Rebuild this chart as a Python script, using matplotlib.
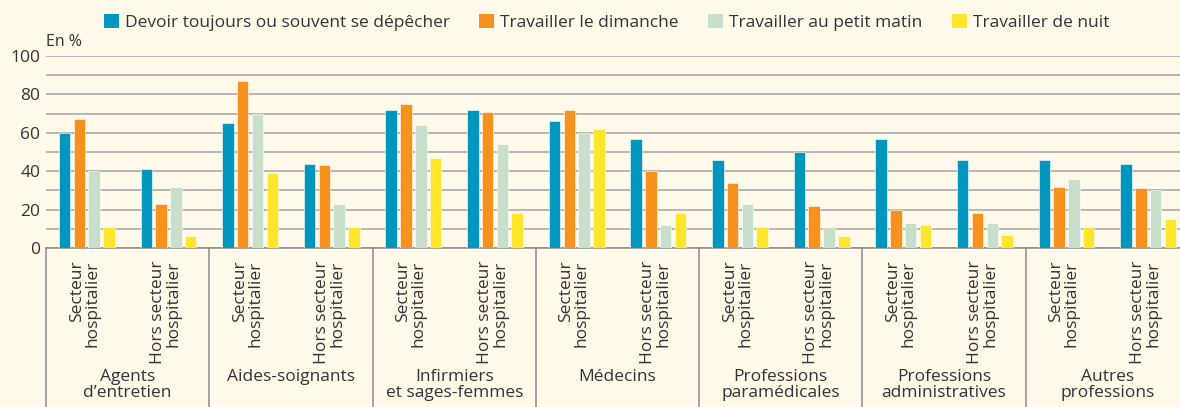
import numpy as np
import matplotlib.pyplot as plt
import matplotlib.transforms as mtransforms
from matplotlib.patches import Patch

groups = ["Agents\nd\u2019entretien", "Aides-soignants", "Infirmiers\net sages-femmes",
          "M\u00e9decins", "Professions\nparam\u00e9dicales", "Professions\nadministratives",
          "Autres\nprofessions"]
sub_labels = ["Secteur\nhospitalier", "Hors secteur\nhospitalier"]

series_names = ["Devoir toujours ou souvent se d\u00e9p\u00eacher", "Travailler le dimanche",
                "Travailler au petit matin", "Travailler de nuit"]
# order: for each group, Secteur hospitalier then Hors secteur hospitalier
depecher = [60, 41, 65, 44, 72, 72, 66, 57, 46, 50, 57, 46, 46, 44]
dimanche = [67, 23, 87, 43, 75, 71, 72, 40, 34, 22, 20, 18, 32, 31]
petit_matin = [40, 32, 70, 23, 64, 54, 60, 12, 23, 11, 13, 13, 36, 30]
nuit = [11, 6, 39, 11, 47, 18, 62, 18, 11, 6, 12, 7, 11, 15]

colors = ["#0096BD", "#F7921E", "#C8DFCB", "#FFE52B"]
bg = "#FEF9E8"
grid_col = "#A5A5A5"
txt_col = "#333333"

plt.rcParams['font.family'] = ['Open Sans', 'DejaVu Sans']

fig = plt.figure(figsize=(11.8, 4.07), dpi=100, facecolor=bg)
# the chart runs a little past the right edge of the picture
ax = fig.add_axes([0.039, 0.3907, 0.9686, 0.4717])
ax.set_facecolor(bg)

n = len(depecher)
x = np.arange(n) + 0.5
w = 0.141
step = 0.181
all_series = [depecher, dimanche, petit_matin, nuit]
for k, vals in enumerate(all_series):
    ax.bar(x + (k - 1.5) * step, vals, width=w, color=colors[k], zorder=3,
           edgecolor="white", linewidth=0.4)

ax.set_xlim(0, n)
ax.set_ylim(0, 100)
ax.set_yticks(np.arange(0, 101, 10))
ax.set_yticklabels([str(v) if v % 20 == 0 else "" for v in range(0, 101, 10)])
ax.yaxis.grid(True, color=grid_col, linewidth=1.1, zorder=0)
ax.tick_params(axis='y', length=0, labelsize=12.5, colors=txt_col, pad=4)
ax.set_xticks([])
for s in ["top", "right", "left"]:
    ax.spines[s].set_visible(False)
ax.spines["bottom"].set_color("#8C8C8C")
ax.spines["bottom"].set_linewidth(1.1)

ax.text(0.0, 1.03, "En %", transform=ax.transAxes, fontsize=11.5, color=txt_col,
        ha="left", va="bottom")

trans = mtransforms.blended_transform_factory(ax.transData, ax.transAxes)
for i in range(n):
    ax.text(x[i] - 0.03, -0.065, sub_labels[i % 2], transform=trans, rotation=90,
            ha="center", va="top", multialignment="right", fontsize=12.5,
            color=txt_col, linespacing=0.95)

for g in range(len(groups) + 1):
    ax.plot([2 * g, 2 * g], [0, -0.83], transform=trans, color="#8C8C8C",
            linewidth=1.1, clip_on=False)

for g, name in enumerate(groups):
    ax.text(2 * g + 1, -0.63, name, transform=trans, ha="center", va="top",
            fontsize=12.5, color=txt_col, linespacing=1.0)

handles = [Patch(facecolor=c) for c in colors]
fig.legend(handles, series_names, loc="center", bbox_to_anchor=(0.514, 0.945),
           ncol=4, frameon=False, fontsize=12.5, handlelength=0.85, handleheight=0.85,
           handletextpad=0.35, columnspacing=1.7, labelcolor=txt_col)

fig.savefig("out.png", dpi=100, facecolor=bg)
